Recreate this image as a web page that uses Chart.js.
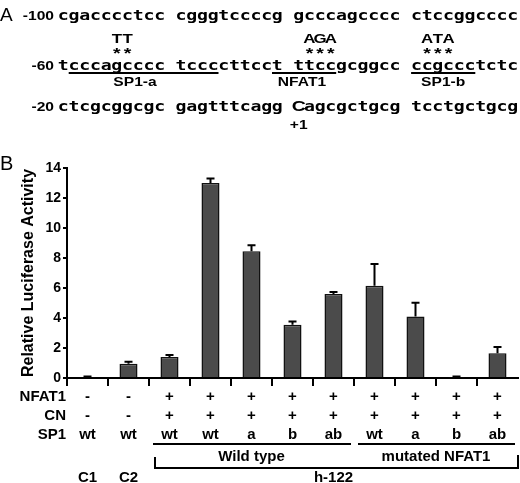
<!DOCTYPE html>
<html lang="en">
<head>
<meta charset="UTF-8" />
<title>NFAT1 / SP1 promoter luciferase activity</title>
<script src="https://cdn.jsdelivr.net/npm/chart.js"></script>
<style>
  body { margin: 0; background: #fff; }
  #wrap { width: 520px; height: 483px; }
</style>
</head>
<body>
<div id="wrap"><canvas id="lucChart"></canvas></div>
<script>
// ---- data ----
const labels = ["C1", "C2", "wt", "wt", "a", "b", "ab", "wt", "a", "b", "ab"];
const activity = [0.05, 0.95, 1.4, 13.0, 8.45, 3.55, 5.6, 6.15, 4.1, 0.05, 1.65];
const errors = [0.05, 0.14, 0.13, 0.3, 0.4, 0.22, 0.13, 1.45, 0.92, 0.05, 0.42];

const nfat1Row = ["-", "-", "+", "+", "+", "+", "+", "+", "+", "+", "+"];
const cnRow = ["-", "-", "+", "+", "+", "+", "+", "+", "+", "+", "+"];
const sp1Row = ["wt", "wt", "wt", "wt", "a", "b", "ab", "wt", "a", "b", "ab"];

// promoter sequence (panel A)
const seqPos = ["-100", "-60", "-20"];
const seqText = [
  "cgacccctcc cgggtccccg gcccagcccc ctccggcccc",
  "tcccagcccc tccccttcct ttccgcggcc ccgccctctc",
  "ctcgcggcgc gagtttcagg Cagcgctgcg tcctgctgcg"
];
// binding sites on the -60 row: char index range, mutations, label
const siteNames = ["SP1-a", "NFAT1", "SP1-b"];
const siteFrom = [1, 20, 33];
const siteTo = [14, 25, 38];
const siteMut = ["TT", "AGA", "ATA"];
const siteMutAt = [5, 23, 34];
const siteLabelAt = [7.2, 22.8, 36];

const FONT = "'Liberation Sans', Arial, sans-serif";

// ---- panel A: sequence text ----
const panelA = {
  id: "panelA",
  afterDraw(chart) {
    const ctx = chart.ctx;
    const x0 = 58, cw = 10.7, sx = 1.3;
    const rowY = [20, 70, 111];

    function put(text, x, y, font, align) {
      ctx.save();
      ctx.font = font;
      ctx.textAlign = align || "center";
      ctx.textBaseline = "alphabetic";
      ctx.translate(x, y);
      ctx.scale(sx, 1);
      ctx.fillText(text, 0, 0);
      ctx.restore();
    }
    function charX(i) { return x0 + i * cw + cw / 2; }

    ctx.save();
    ctx.fillStyle = "#000";
    ctx.font = "19px " + FONT;
    ctx.textAlign = "left";
    ctx.fillText("A", 0, 21);

    for (let r = 0; r < seqText.length; r++) {
      put(seqPos[r], 54, rowY[r], "bold 12px " + FONT, "right");
      const s = seqText[r];
      for (let i = 0; i < s.length; i++) {
        if (s[i] === " ") continue;
        const f = s[i] === "C" ? "bold 15px " + FONT : "bold 14px 'DejaVu Sans Mono', monospace";
        put(s[i], charX(i), rowY[r], f);
      }
    }
    put("+1", charX(22), 129, "bold 12px " + FONT);

    ctx.strokeStyle = "#000";
    ctx.lineWidth = 2;
    for (let k = 0; k < siteNames.length; k++) {
      ctx.beginPath();
      ctx.moveTo(x0 + siteFrom[k] * cw, 73);
      ctx.lineTo(x0 + (siteTo[k] + 1) * cw, 73);
      ctx.stroke();
      put(siteNames[k], x0 + siteLabelAt[k] * cw, 86, "bold 12px " + FONT);
      const m = siteMut[k];
      for (let j = 0; j < m.length; j++) {
        const cx = charX(siteMutAt[k] + j);
        put(m[j], cx, 43, "bold 13px " + FONT);
        put("*", cx, 58, "bold 15px " + FONT);
      }
    }
    ctx.restore();
  }
};

// ---- error bars (upper only) ----
const errorBars = {
  id: "errorBars",
  afterDatasetsDraw(chart) {
    const ctx = chart.ctx;
    const yScale = chart.scales.y;
    const meta = chart.getDatasetMeta(0);
    ctx.save();
    ctx.strokeStyle = "#000";
    ctx.lineWidth = 2;
    meta.data.forEach((bar, i) => {
      const yTop = yScale.getPixelForValue(activity[i] + errors[i]);
      ctx.beginPath();
      ctx.moveTo(bar.x, bar.y);
      ctx.lineTo(bar.x, yTop);
      ctx.moveTo(bar.x - 4, yTop);
      ctx.lineTo(bar.x + 4, yTop);
      ctx.stroke();
    });
    ctx.restore();
  }
};

// ---- condition table under the x axis ----
const conditionTable = {
  id: "conditionTable",
  afterDraw(chart) {
    const ctx = chart.ctx;
    const xs = chart.scales.x;
    const cx = (i) => xs.getPixelForValue(i);
    ctx.save();
    ctx.fillStyle = "#000";
    ctx.strokeStyle = "#000";
    ctx.lineWidth = 2;
    ctx.font = "bold 15px " + FONT;
    ctx.textBaseline = "middle";

    const rows = [["NFAT1", nfat1Row, 397], ["CN", cnRow, 416], ["SP1", sp1Row, 435]];
    rows.forEach(([name, vals, y]) => {
      ctx.textAlign = "right";
      ctx.fillText(name, 66, y);
      ctx.textAlign = "center";
      vals.forEach((v, i) => ctx.fillText(v, cx(i), y));
    });

    // group underlines
    ctx.beginPath();
    ctx.moveTo(cx(2) - 16.5, 444); ctx.lineTo(cx(6) + 17.5, 444);
    ctx.moveTo(cx(7) - 16.5, 444); ctx.lineTo(cx(10) + 17.5, 444);
    ctx.stroke();

    ctx.textAlign = "center";
    ctx.fillText("Wild type", (cx(2) + cx(6)) / 2, 457);
    ctx.fillText("mutated NFAT1", (cx(7) + cx(10)) / 2, 457);

    // h-122 bracket
    const bl = cx(2) - 14.5, br = xs.right;
    ctx.beginPath();
    ctx.moveTo(bl, 457); ctx.lineTo(bl, 468); ctx.lineTo(br, 468); ctx.lineTo(br, 455);
    ctx.stroke();

    ctx.fillText("h-122", (cx(2) + cx(10)) / 2, 478);
    ctx.fillText("C1", cx(0), 478);
    ctx.fillText("C2", cx(1), 478);

    ctx.font = "20px " + FONT;
    ctx.textAlign = "left";
    ctx.textBaseline = "alphabetic";
    ctx.fillText("B", 0, 170);
    ctx.restore();
  }
};

new Chart(document.getElementById("lucChart"), {
  type: "bar",
  data: {
    labels: labels,
    datasets: [{
      data: activity,
      backgroundColor: "#4b4b4b",
      borderColor: "#111",
      borderWidth: 1.5,
      barPercentage: 0.44,
      categoryPercentage: 1.0
    }]
  },
  options: {
    responsive: true,
    maintainAspectRatio: false,
    animation: false,
    layout: { padding: { top: 168, right: 2, left: 0, bottom: 0 } },
    plugins: { legend: { display: false }, tooltip: { enabled: false } },
    scales: {
      x: {
        offset: true,
        ticks: { display: false },
        grid: {
          offset: true,
          drawOnChartArea: false,
          drawTicks: true,
          tickLength: 8,
          lineWidth: 2,
          color: (c) => (c.type === "tick" ? "#000" : "rgba(0,0,0,0)")
        },
        border: { display: true, color: "#000", width: 2 },
        afterFit: (s) => { s.height = 105; }
      },
      y: {
        min: 0,
        max: 14,
        ticks: { stepSize: 2, padding: 2, color: "#000", font: { family: FONT, size: 14, weight: "bold" } },
        grid: { drawOnChartArea: false, drawTicks: true, tickLength: 4, lineWidth: 2, color: "#000" },
        border: { display: true, color: "#000", width: 2 },
        title: {
          display: true,
          text: "Relative Luciferase Activity",
          color: "#000",
          font: { family: FONT, size: 16, weight: "bold" },
          padding: { top: 19, bottom: 0 }
        },
        afterFit: (s) => { s.width = 67; }
      }
    }
  },
  plugins: [errorBars, conditionTable, panelA]
});
</script>
</body>
</html>
